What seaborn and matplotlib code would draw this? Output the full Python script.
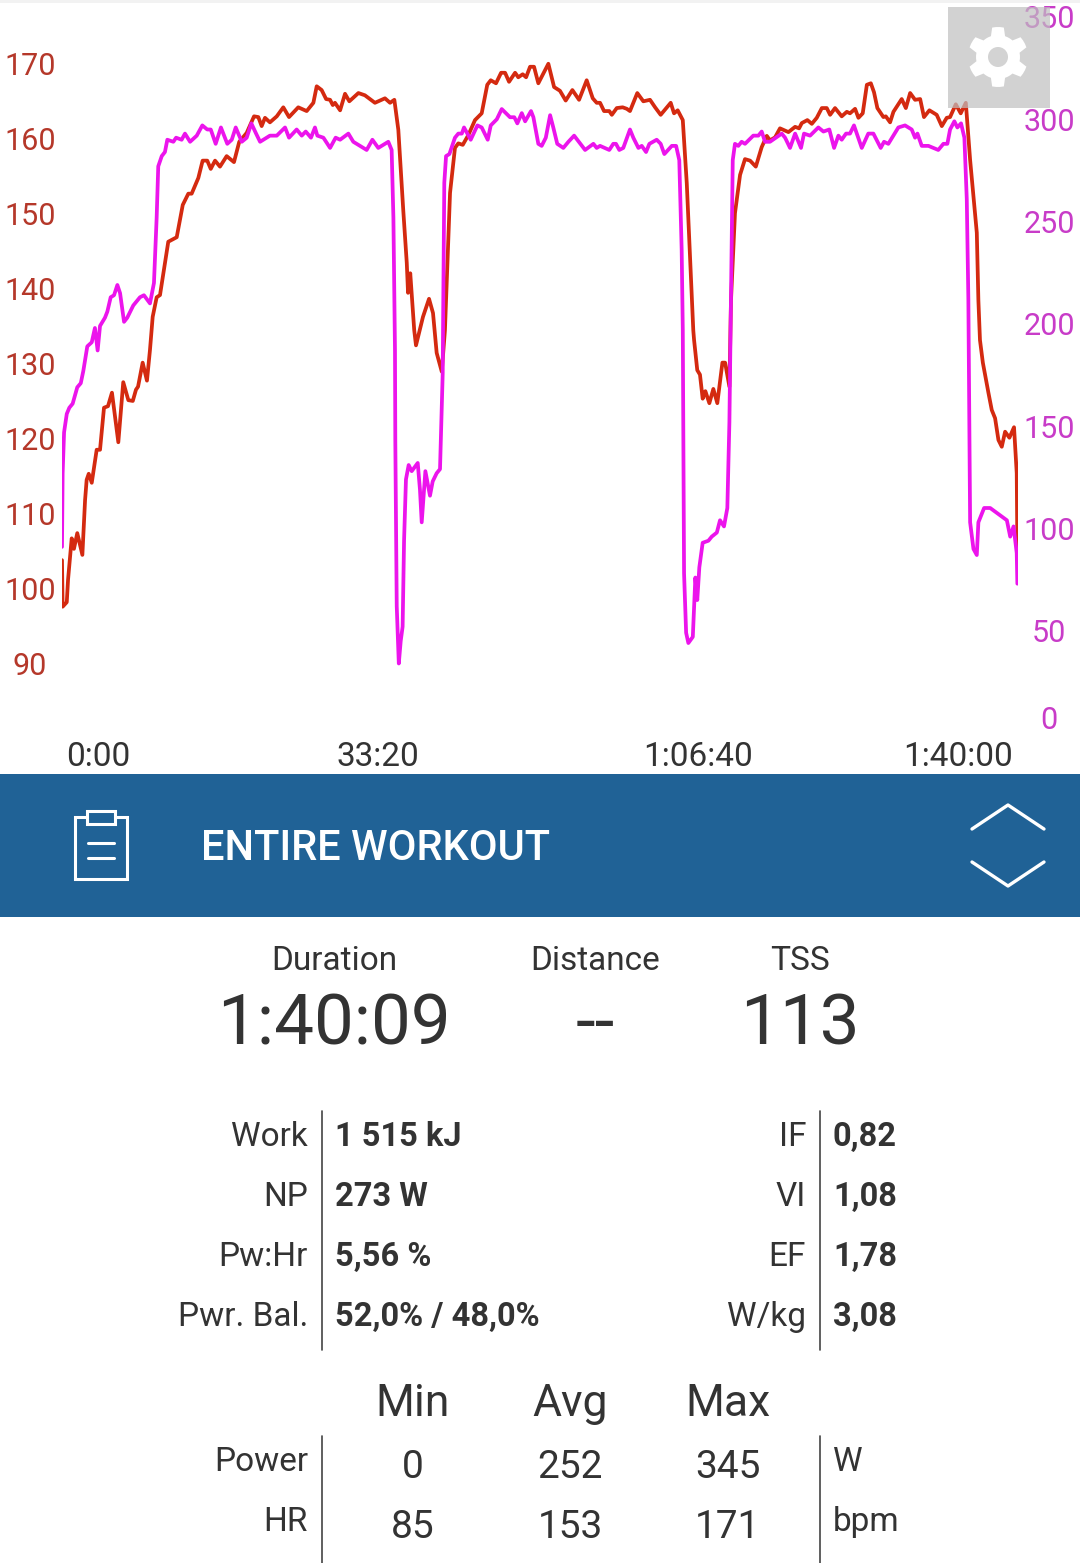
import numpy as np
import pandas as pd
import matplotlib
matplotlib.use('Agg')
import matplotlib.pyplot as plt
import matplotlib.patches as mpatches
from matplotlib.transforms import ScaledTranslation
import seaborn as sns

# Values: seconds, bpm and watts
hr_time = [0, 4, 30, 38, 61, 75, 96, 128, 145, 155, 168, 187, 218, 239, 264, 289, 314, 354, 385, 417, 445, 465, 478, 507, 534, 553, 570, 595, 616, 668, 721, 759, 794, 815, 857, 884, 913, 935, 962, 993, 1035, 1081, 1114, 1161, 1207, 1234, 1255, 1276, 1307, 1350, 1391, 1427, 1485, 1538, 1580, 1601, 1632, 1660, 1685, 1702, 1716, 1748, 1779, 1806, 1863, 1904, 1967, 2030, 2062, 2089, 2114, 2145, 2167, 2175, 2189, 2214, 2225, 2269, 2307, 2332, 2355, 2387, 2407, 2439, 2470, 2491, 2519, 2554, 2596, 2638, 2673, 2695, 2728, 2760, 2785, 2810, 2848, 2868, 2896, 2917, 2942, 2967, 2994, 3057, 3093, 3130, 3166, 3208, 3250, 3298, 3336, 3361, 3382, 3407, 3440, 3456, 3487, 3524, 3550, 3570, 3616, 3654, 3696, 3728, 3763, 3826, 3847, 3870, 3902, 3927, 3968, 3973, 3993, 4010, 4027, 4044, 4069, 4094, 4119, 4151, 4168, 4195, 4205, 4230, 4262, 4293, 4325, 4361, 4398, 4430, 4450, 4482, 4513, 4566, 4608, 4633, 4650, 4685, 4713, 4744, 4776, 4807, 4828, 4859, 4901, 4933, 4953, 4985, 5006, 5033, 5059, 5084, 5104, 5125, 5163, 5178, 5205, 5226, 5278, 5304, 5331, 5362, 5394, 5418, 5452, 5498, 5530, 5561, 5582, 5618, 5649, 5681, 5708, 5750, 5760, 5770, 5788, 5823, 5844, 5865, 5886, 5907, 5928, 5955, 5984, 6001, 6005]
hr_bpm = [103.8, 97.6, 98.2, 101.2, 106.7, 105.3, 107.4, 104.5, 111.8, 114.5, 115.3, 114.1, 118.5, 118.5, 124.1, 124.3, 126.1, 119.5, 127.5, 125.1, 125.0, 126.5, 126.9, 130.1, 127.7, 131.8, 136.2, 138.8, 139.1, 146.2, 146.8, 151.1, 152.6, 152.6, 154.7, 157.0, 157.0, 155.9, 157.0, 156.2, 157.6, 156.8, 159.5, 160.7, 162.9, 162.8, 161.6, 162.7, 162.1, 162.9, 164.1, 162.8, 164.1, 163.6, 164.7, 166.9, 166.4, 165.2, 165.1, 164.4, 164.7, 163.7, 165.9, 164.9, 166.0, 165.7, 164.7, 165.3, 164.7, 165.1, 161.1, 150.4, 143.4, 139.4, 142.0, 134.4, 132.4, 136.2, 138.6, 136.7, 131.4, 128.9, 134.4, 152.7, 158.7, 159.3, 159.1, 160.4, 162.4, 163.3, 167.1, 167.7, 167.3, 168.7, 168.7, 167.5, 168.7, 168.1, 168.5, 168.1, 169.5, 169.5, 167.3, 169.9, 166.8, 166.3, 165.0, 166.4, 165.1, 167.7, 165.3, 164.7, 164.7, 163.6, 163.6, 163.1, 164.0, 164.1, 163.9, 163.6, 166.0, 164.9, 165.1, 164.1, 163.1, 164.7, 163.3, 163.7, 162.4, 154.0, 134.4, 133.1, 129.1, 128.5, 125.3, 126.3, 124.7, 126.6, 124.7, 130.1, 130.1, 126.9, 138.4, 150.0, 155.1, 157.2, 157.0, 156.2, 158.8, 160.3, 159.7, 160.1, 161.3, 160.8, 161.5, 161.3, 162.0, 162.4, 161.9, 162.7, 164.0, 164.0, 163.1, 164.0, 162.9, 163.5, 163.3, 163.9, 162.7, 163.3, 167.1, 167.3, 166.1, 164.0, 162.8, 162.9, 162.1, 163.5, 165.2, 164.0, 166.0, 165.1, 165.2, 162.8, 163.7, 163.1, 161.6, 162.7, 162.8, 164.5, 163.3, 164.7, 157.1, 147.4, 138.4, 133.1, 130.1, 126.1, 123.8, 122.7, 119.8, 118.9, 120.9, 120.1, 121.5, 115.4, 105.6]
power_time = [0, 4, 13, 30, 46, 67, 96, 118, 134, 159, 187, 207, 224, 239, 270, 285, 306, 327, 348, 365, 390, 410, 448, 490, 515, 553, 578, 595, 605, 627, 647, 662, 700, 717, 752, 773, 805, 847, 882, 913, 935, 966, 999, 1039, 1067, 1092, 1130, 1161, 1190, 1220, 1245, 1307, 1350, 1402, 1427, 1475, 1507, 1532, 1565, 1590, 1605, 1643, 1685, 1720, 1748, 1800, 1831, 1915, 1951, 1988, 2051, 2072, 2083, 2093, 2095, 2104, 2117, 2129, 2141, 2150, 2162, 2179, 2198, 2236, 2250, 2261, 2284, 2313, 2330, 2355, 2376, 2393, 2395, 2403, 2414, 2435, 2470, 2491, 2513, 2527, 2569, 2611, 2638, 2676, 2695, 2733, 2764, 2816, 2843, 2862, 2890, 2911, 2948, 2963, 2994, 3015, 3041, 3068, 3088, 3113, 3151, 3183, 3219, 3288, 3340, 3361, 3382, 3440, 3465, 3482, 3503, 3528, 3570, 3591, 3623, 3644, 3671, 3692, 3738, 3763, 3786, 3833, 3860, 3880, 3895, 3902, 3910, 3923, 3937, 3965, 3981, 3993, 4006, 4027, 4063, 4084, 4116, 4136, 4161, 4182, 4195, 4205, 4216, 4230, 4251, 4272, 4293, 4345, 4377, 4398, 4419, 4450, 4524, 4545, 4576, 4608, 4645, 4664, 4702, 4754, 4786, 4823, 4853, 4880, 4901, 4928, 4953, 4978, 5027, 5068, 5100, 5146, 5167, 5194, 5257, 5299, 5341, 5362, 5377, 5404, 5446, 5508, 5540, 5565, 5582, 5609, 5628, 5651, 5672, 5687, 5697, 5699, 5708, 5729, 5750, 5760, 5796, 5834, 5939, 5960, 5981, 6001, 6005]
power_watts = [91, 127, 147, 156, 159, 161, 169, 171, 177, 189, 191, 198, 187, 199, 203, 206, 213, 214, 219, 215, 201, 203, 209, 213, 214, 210, 220, 252, 277, 282, 284, 290, 289, 291, 290, 293, 289, 292, 297, 295, 295, 288, 296, 288, 290, 296, 289, 291, 298, 293, 289, 292, 292, 296, 291, 295, 292, 294, 291, 296, 292, 291, 286, 291, 290, 293, 289, 285, 290, 286, 289, 285, 252, 187, 143, 62, 34, 45, 52, 94, 124, 131, 128, 132, 119, 103, 128, 116, 123, 127, 129, 176, 197, 269, 282, 283, 291, 293, 293, 296, 290, 297, 296, 290, 297, 300, 305, 301, 301, 298, 303, 299, 304, 301, 288, 287, 291, 302, 296, 288, 286, 289, 292, 285, 288, 286, 287, 285, 288, 288, 285, 286, 295, 291, 286, 287, 284, 288, 290, 288, 283, 287, 287, 280, 236, 197, 78, 49, 44, 47, 76, 65, 81, 93, 94, 96, 98, 104, 101, 110, 152, 212, 280, 288, 287, 289, 288, 292, 292, 294, 289, 289, 293, 291, 286, 293, 286, 293, 292, 296, 294, 295, 286, 292, 290, 293, 293, 297, 286, 293, 293, 286, 289, 288, 296, 297, 295, 291, 293, 287, 287, 285, 288, 288, 295, 299, 296, 298, 291, 261, 212, 192, 103, 90, 87, 103, 110, 110, 104, 96, 101, 88, 73]

hr_ticks = [90, 100, 110, 120, 130, 140, 150, 160, 170]
power_ticks = [0, 50, 100, 150, 200, 250, 300, 350]
time_ticks = [0, 2000, 4000, 6000]
time_labels = ['0:00', '33:20', '1:06:40', '1:40:00']

summary_names = ['Duration', 'Distance', 'TSS']
summary_values = ['1:40:09', '--', '113']
left_names = ['Work', 'NP', 'Pw:Hr', 'Pwr. Bal.']
left_values = ['1 515 kJ', '273 W', '5,56 %', '52,0% / 48,0%']
right_names = ['IF', 'VI', 'EF', 'W/kg']
right_values = ['0,82', '1,08', '1,78', '3,08']
stat_columns = ['Min', 'Avg', 'Max']
power_stats = ['0', '252', '345']
hr_stats = ['85', '153', '171']

RED = '#D42A10'
MAGENTA = '#EC14EC'
RED_TEXT = '#B5382A'
MAGENTA_TEXT = '#C83CC8'
DARK = '#333333'
W, H = 1080, 1563

sns.set_theme(style='white')
plt.rcParams['font.family'] = ['Roboto', 'DejaVu Sans']

fig = plt.figure(figsize=(W / 100, H / 100), dpi=100)
chart_left, chart_right, chart_bottom = 62, 1018, 740
ax = fig.add_axes([chart_left / W, 1 - chart_bottom / H, (chart_right - chart_left) / W, chart_bottom / H])
ax2 = ax.twinx()

hr_df = pd.DataFrame({'time': hr_time, 'hr': hr_bpm})
power_df = pd.DataFrame({'time': power_time, 'power': power_watts})
sns.lineplot(data=hr_df, x='time', y='hr', color=RED, linewidth=2.7, estimator=None, ax=ax)
sns.lineplot(data=power_df, x='time', y='power', color=MAGENTA, linewidth=2.7, estimator=None, ax=ax2)

ax.set_xlim(0, 6009)
ax.set_ylim(79.85, 178.39)
ax2.set_ylim(-3.4, 358.3)
for a in [ax, ax2]:
    a.set_xlabel('')
    a.set_ylabel('')
    a.grid(False)
    for side in a.spines:
        a.spines[side].set_visible(False)

ax.set_yticks(hr_ticks)
ax.set_yticklabels([str(v) for v in hr_ticks], ha='center')
ax.tick_params(axis='y', length=0, pad=23, labelsize=22, labelcolor=RED_TEXT)
ax2.set_yticks(power_ticks)
ax2.set_yticklabels([str(v) for v in power_ticks], ha='center')
ax2.tick_params(axis='y', length=0, pad=22.5, labelsize=22, labelcolor=MAGENTA_TEXT)
ax.set_xticks(time_ticks)
ax.set_xticklabels(time_labels)
ax.tick_params(axis='x', length=0, pad=0.5, labelsize=24, labelcolor=DARK)

# The app keeps the outer labels inside the chart
xlabels = ax.get_xticklabels()
xlabels[0].set_transform(xlabels[0].get_transform() + ScaledTranslation(0.36, 0, fig.dpi_scale_trans))
xlabels[1].set_transform(xlabels[1].get_transform() + ScaledTranslation(-0.02, 0, fig.dpi_scale_trans))
xlabels[3].set_transform(xlabels[3].get_transform() + ScaledTranslation(-0.59, 0, fig.dpi_scale_trans))
zero_label = ax2.get_yticklabels()[0]
zero_label.set_transform(zero_label.get_transform() + ScaledTranslation(0, 0.16, fig.dpi_scale_trans))

# Overlay in screen pixels for the gear button and the panel under the chart
panel = fig.add_axes([0, 0, 1, 1], zorder=5)
panel.set_xlim(0, W)
panel.set_ylim(H, 0)
panel.axis('off')
panel.patch.set_alpha(0)

panel.add_patch(mpatches.Rectangle((0, 0), W, 3, color='#F2F2F2', lw=0))
panel.add_patch(mpatches.Rectangle((948, 7), 102, 101, facecolor='#C0C0C0', alpha=0.7, lw=0))
angles = np.linspace(0, 2 * np.pi, 48, endpoint=False) - np.radians(11.25)
radii = np.where((np.arange(48) % 8) < 4, 30, 22)
gear = np.column_stack([998 + radii * np.sin(angles), 57 + radii * np.cos(angles)])
panel.add_patch(mpatches.Polygon(gear, closed=True, facecolor='white', lw=0))
panel.add_patch(mpatches.Circle((998, 57), 10, facecolor='#D3D3D3', lw=0))

panel.add_patch(mpatches.Rectangle((0, 774), W, 143, color='#206296', lw=0))
panel.add_patch(mpatches.Rectangle((75, 817), 52, 62, fill=False, edgecolor='white', lw=2.2))
panel.add_patch(mpatches.Rectangle((87, 811), 28, 13, facecolor='#206296', edgecolor='white', lw=2.2))
panel.plot([88, 114], [843, 843], color='white', lw=2.2)
panel.plot([88, 114], [858, 858], color='white', lw=2.2)
panel.plot([972, 1008, 1044], [829, 805, 829], color='white', lw=2.4)
panel.plot([972, 1008, 1044], [862, 886, 862], color='white', lw=2.4)
panel.text(201, 849, 'ENTIRE WORKOUT', color='white', fontsize=30, fontweight='medium', va='center', ha='left')

for x, name, value in zip([334, 595, 800], summary_names, summary_values):
    panel.text(x, 961, name, color=DARK, fontsize=24, ha='center', va='center')
    panel.text(x, 1025, value, color=DARK, fontsize=51, ha='center', va='center')

for i, y in enumerate([1137, 1197, 1257, 1317]):
    panel.text(308, y, left_names[i], color=DARK, fontsize=24, ha='right', va='center')
    panel.text(335, y, left_values[i], color=DARK, fontsize=23.5, fontweight='bold', ha='left', va='center')
    panel.text(806, y, right_names[i], color=DARK, fontsize=24, ha='right', va='center')
    panel.text(833, y, right_values[i], color=DARK, fontsize=23.5, fontweight='bold', ha='left', va='center')

for x in [322, 820]:
    panel.plot([x, x], [1111, 1350], color='#444444', lw=1.2)
    panel.plot([x, x], [1436, 1563], color='#444444', lw=1.2)

for x, name, pw, hr in zip([413, 570, 728], stat_columns, power_stats, hr_stats):
    panel.text(x, 1404, name, color=DARK, fontsize=32, ha='center', va='center')
    panel.text(x, 1467, pw, color=DARK, fontsize=28, ha='center', va='center')
    panel.text(x, 1527, hr, color=DARK, fontsize=28, ha='center', va='center')

panel.text(308, 1462, 'Power', color=DARK, fontsize=24, ha='right', va='center')
panel.text(308, 1522, 'HR', color=DARK, fontsize=24, ha='right', va='center')
panel.text(833, 1462, 'W', color=DARK, fontsize=24, ha='left', va='center')
panel.text(833, 1522, 'bpm', color=DARK, fontsize=24, ha='left', va='center')

fig.savefig('out.png', dpi=100)
